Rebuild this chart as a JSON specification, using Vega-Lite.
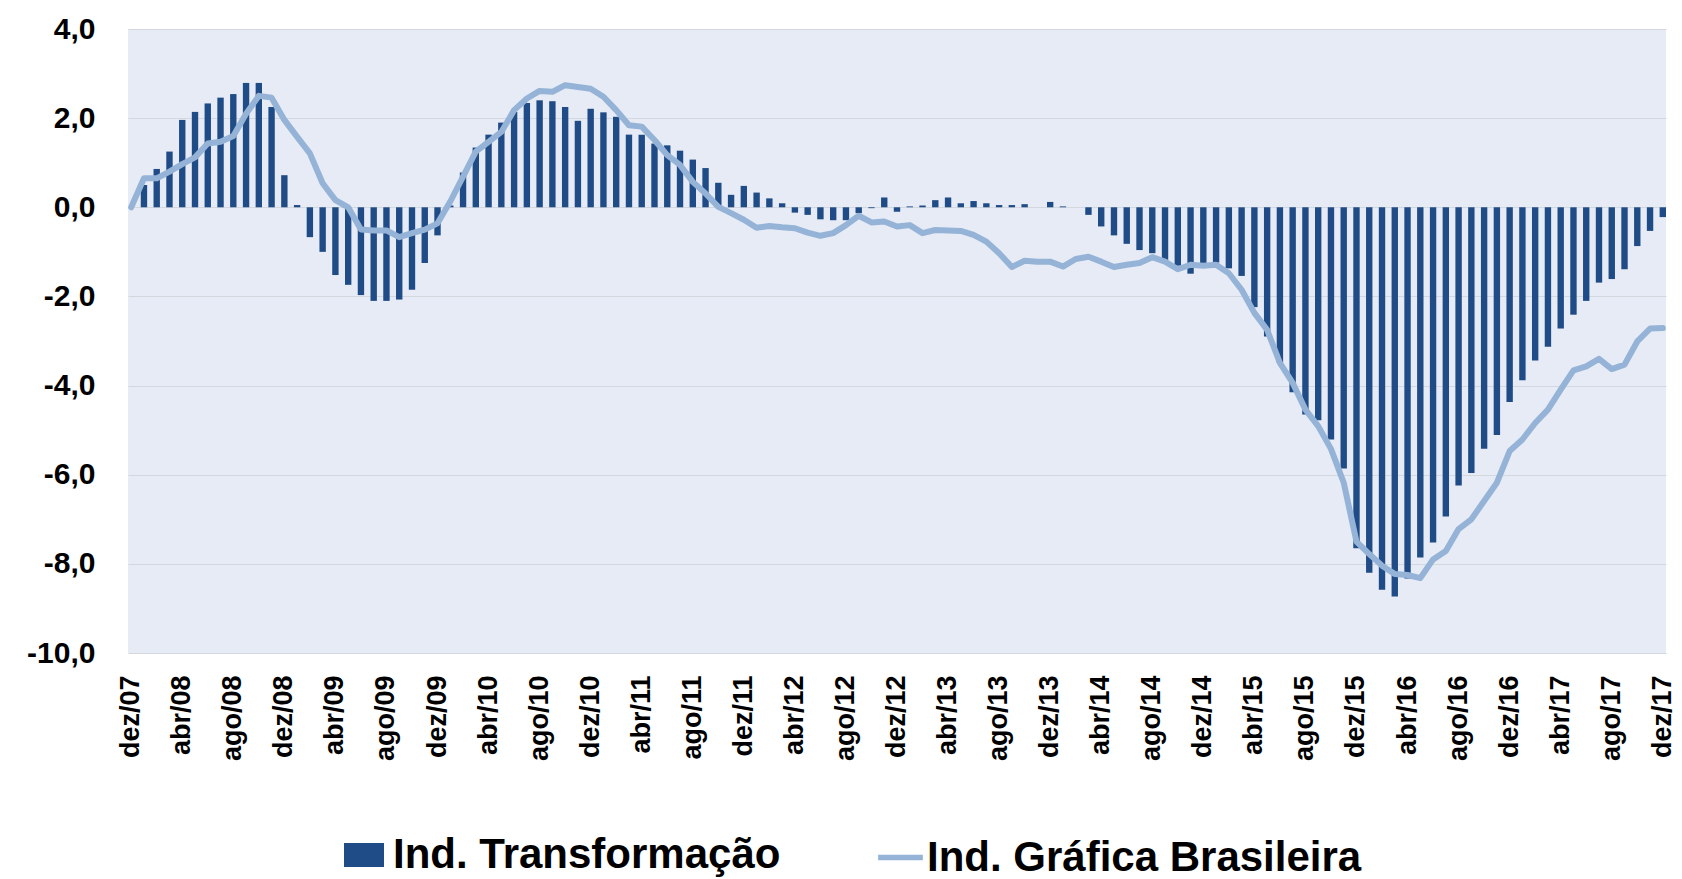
{
  "$schema": "https://vega.github.io/schema/vega-lite/v6.json",
  "autosize": {"type": "none"},
  "width": 1538,
  "height": 624,
  "padding": {"left": 128, "top": 29, "right": 16, "bottom": 226},
  "background": "white",
  "config": {
    "font": "Liberation Sans",
    "view": {"fill": "#E6EBF5", "stroke": null}
  },
  "data": {"values": [
    {"mes":"dez/07","t":0,"g":0.0},
    {"mes":"jan/08","t":0.50,"g":0.65},
    {"mes":"fev/08","t":0.86,"g":0.65},
    {"mes":"mar/08","t":1.25,"g":0.80},
    {"mes":"abr/08","t":1.96,"g":0.97},
    {"mes":"mai/08","t":2.14,"g":1.12},
    {"mes":"jun/08","t":2.33,"g":1.43},
    {"mes":"jul/08","t":2.46,"g":1.47},
    {"mes":"ago/08","t":2.54,"g":1.60},
    {"mes":"set/08","t":2.79,"g":2.10},
    {"mes":"out/08","t":2.79,"g":2.50},
    {"mes":"nov/08","t":2.25,"g":2.46},
    {"mes":"dez/08","t":0.72,"g":1.96},
    {"mes":"jan/09","t":0.05,"g":1.58},
    {"mes":"fev/09","t":-0.67,"g":1.21},
    {"mes":"mar/09","t":-1.00,"g":0.54},
    {"mes":"abr/09","t":-1.52,"g":0.16},
    {"mes":"mai/09","t":-1.74,"g":0.0},
    {"mes":"jun/09","t":-1.97,"g":-0.50},
    {"mes":"jul/09","t":-2.10,"g":-0.52},
    {"mes":"ago/09","t":-2.10,"g":-0.52},
    {"mes":"set/09","t":-2.07,"g":-0.67},
    {"mes":"out/09","t":-1.85,"g":-0.58},
    {"mes":"nov/09","t":-1.25,"g":-0.50},
    {"mes":"dez/09","t":-0.63,"g":-0.36},
    {"mes":"jan/10","t":0.04,"g":0.13},
    {"mes":"fev/10","t":0.78,"g":0.69},
    {"mes":"mar/10","t":1.34,"g":1.25},
    {"mes":"abr/10","t":1.63,"g":1.47},
    {"mes":"mai/10","t":1.90,"g":1.69},
    {"mes":"jun/10","t":2.14,"g":2.18},
    {"mes":"jul/10","t":2.34,"g":2.44},
    {"mes":"ago/10","t":2.40,"g":2.61},
    {"mes":"set/10","t":2.38,"g":2.59},
    {"mes":"out/10","t":2.25,"g":2.74},
    {"mes":"nov/10","t":1.94,"g":2.70},
    {"mes":"dez/10","t":2.21,"g":2.66},
    {"mes":"jan/11","t":2.13,"g":2.48},
    {"mes":"fev/11","t":2.03,"g":2.18},
    {"mes":"mar/11","t":1.63,"g":1.84},
    {"mes":"abr/11","t":1.63,"g":1.81},
    {"mes":"mai/11","t":1.43,"g":1.51},
    {"mes":"jun/11","t":1.39,"g":1.17},
    {"mes":"jul/11","t":1.27,"g":0.95},
    {"mes":"ago/11","t":1.07,"g":0.57},
    {"mes":"set/11","t":0.88,"g":0.31},
    {"mes":"out/11","t":0.55,"g":0.01},
    {"mes":"nov/11","t":0.28,"g":-0.13},
    {"mes":"dez/11","t":0.48,"g":-0.28},
    {"mes":"jan/12","t":0.33,"g":-0.46},
    {"mes":"fev/12","t":0.20,"g":-0.42},
    {"mes":"mar/12","t":0.09,"g":-0.45},
    {"mes":"abr/12","t":-0.12,"g":-0.47},
    {"mes":"mai/12","t":-0.17,"g":-0.57},
    {"mes":"jun/12","t":-0.27,"g":-0.64},
    {"mes":"jul/12","t":-0.29,"g":-0.58},
    {"mes":"ago/12","t":-0.29,"g":-0.40},
    {"mes":"set/12","t":-0.13,"g":-0.19},
    {"mes":"out/12","t":-0.02,"g":-0.34},
    {"mes":"nov/12","t":0.22,"g":-0.32},
    {"mes":"dez/12","t":-0.10,"g":-0.43},
    {"mes":"jan/13","t":0.02,"g":-0.40},
    {"mes":"fev/13","t":0.04,"g":-0.58},
    {"mes":"mar/13","t":0.16,"g":-0.51},
    {"mes":"abr/13","t":0.22,"g":-0.52},
    {"mes":"mai/13","t":0.09,"g":-0.53},
    {"mes":"jun/13","t":0.14,"g":-0.62},
    {"mes":"jul/13","t":0.09,"g":-0.77},
    {"mes":"ago/13","t":0.05,"g":-1.03},
    {"mes":"set/13","t":0.05,"g":-1.34},
    {"mes":"out/13","t":0.07,"g":-1.20},
    {"mes":"nov/13","t":0,"g":-1.22},
    {"mes":"dez/13","t":0.12,"g":-1.22},
    {"mes":"jan/14","t":0.02,"g":-1.33},
    {"mes":"fev/14","t":0,"g":-1.16},
    {"mes":"mar/14","t":-0.17,"g":-1.11},
    {"mes":"abr/14","t":-0.43,"g":-1.22},
    {"mes":"mai/14","t":-0.63,"g":-1.34},
    {"mes":"jun/14","t":-0.82,"g":-1.29},
    {"mes":"jul/14","t":-0.96,"g":-1.25},
    {"mes":"ago/14","t":-1.03,"g":-1.12},
    {"mes":"set/14","t":-1.18,"g":-1.22},
    {"mes":"out/14","t":-1.31,"g":-1.39},
    {"mes":"nov/14","t":-1.49,"g":-1.29},
    {"mes":"dez/14","t":-1.25,"g":-1.31},
    {"mes":"jan/15","t":-1.24,"g":-1.29},
    {"mes":"fev/15","t":-1.37,"g":-1.48},
    {"mes":"mar/15","t":-1.54,"g":-1.85},
    {"mes":"abr/15","t":-2.24,"g":-2.37},
    {"mes":"mai/15","t":-2.90,"g":-2.75},
    {"mes":"jun/15","t":-3.49,"g":-3.49},
    {"mes":"jul/15","t":-4.15,"g":-3.94},
    {"mes":"ago/15","t":-4.65,"g":-4.54},
    {"mes":"set/15","t":-4.78,"g":-4.91},
    {"mes":"out/15","t":-5.21,"g":-5.42},
    {"mes":"nov/15","t":-5.86,"g":-6.18},
    {"mes":"dez/15","t":-7.65,"g":-7.50},
    {"mes":"jan/16","t":-8.20,"g":-7.78},
    {"mes":"fev/16","t":-8.58,"g":-8.04},
    {"mes":"mar/16","t":-8.73,"g":-8.23},
    {"mes":"abr/16","t":-8.33,"g":-8.25},
    {"mes":"mai/16","t":-7.86,"g":-8.32},
    {"mes":"jun/16","t":-7.52,"g":-7.90},
    {"mes":"jul/16","t":-6.94,"g":-7.71},
    {"mes":"ago/16","t":-6.24,"g":-7.22},
    {"mes":"set/16","t":-5.96,"g":-7.00},
    {"mes":"out/16","t":-5.42,"g":-6.59},
    {"mes":"nov/16","t":-5.11,"g":-6.18},
    {"mes":"dez/16","t":-4.37,"g":-5.47},
    {"mes":"jan/17","t":-3.88,"g":-5.21},
    {"mes":"fev/17","t":-3.44,"g":-4.84},
    {"mes":"mar/17","t":-3.13,"g":-4.54},
    {"mes":"abr/17","t":-2.72,"g":-4.09},
    {"mes":"mai/17","t":-2.41,"g":-3.66},
    {"mes":"jun/17","t":-2.10,"g":-3.57},
    {"mes":"jul/17","t":-1.69,"g":-3.40},
    {"mes":"ago/17","t":-1.61,"g":-3.63},
    {"mes":"set/17","t":-1.39,"g":-3.53},
    {"mes":"out/17","t":-0.87,"g":-3.01},
    {"mes":"nov/17","t":-0.53,"g":-2.72},
    {"mes":"dez/17","t":-0.22,"g":-2.71}
  ]},
  "encoding": {
    "x": {
      "field": "mes", "type": "nominal", "sort": null,
      "scale": {"paddingInner": 0.5, "paddingOuter": 0},
      "axis": {
        "title": null, "labelAngle": -90, "labelFontSize": 27, "labelFontWeight": "bold",
        "labelColor": "#000000", "labelPadding": 22, "ticks": false, "domain": false, "grid": false,
        "labelOverlap": false,
        "values": ["dez/07","abr/08","ago/08","dez/08","abr/09","ago/09","dez/09","abr/10","ago/10","dez/10","abr/11","ago/11","dez/11","abr/12","ago/12","dez/12","abr/13","ago/13","dez/13","abr/14","ago/14","dez/14","abr/15","ago/15","dez/15","abr/16","ago/16","dez/16","abr/17","ago/17","dez/17"]
      }
    }
  },
  "layer": [
    {
      "mark": {"type": "bar"},
      "encoding": {
        "y": {
          "field": "t", "type": "quantitative",
          "scale": {"domain": [-10, 4], "nice": false},
          "axis": {
            "title": null, "values": [-10,-8,-6,-4,-2,0,2,4],
            "labelExpr": "replace(replace(format(datum.value, '.1f'), '.', ','), '\u2212', '-')",
            "labelFontSize": 30, "labelFontWeight": "bold", "labelColor": "#000000",
            "labelPadding": 33, "ticks": false, "domain": false,
            "grid": true, "gridColor": "#D3D7DE", "gridWidth": 1.2
          }
        },
        "color": {
          "datum": "Ind. Transformação",
          "scale": {"range": ["#1F4B87"]},
          "legend": {
            "title": null, "orient": "none", "legendX": 215, "legendY": 805,
            "symbolType": "M-1,-0.6H1V0.6H-1Z", "symbolSize": 1600, "symbolStrokeWidth": 0,
            "labelFontSize": 42, "labelFontWeight": "bold", "labelColor": "#000000",
            "labelOffset": 8, "labelLimit": 800, "padding": 0
          }
        }
      }
    },
    {
      "mark": {"type": "line", "strokeWidth": 6, "strokeJoin": "round", "strokeCap": "round"},
      "encoding": {
        "y": {"field": "g", "type": "quantitative"},
        "stroke": {
          "datum": "Ind. Gráfica Brasileira",
          "scale": {"range": ["#95B3D7"]},
          "legend": {
            "title": null, "orient": "none", "legendX": 747, "legendY": 803,
            "symbolType": "stroke", "symbolSize": 2000, "symbolStrokeWidth": 5.5,
            "labelFontSize": 42, "labelFontWeight": "bold", "labelColor": "#000000",
            "labelOffset": 1, "labelLimit": 800, "padding": 0
          }
        }
      }
    }
  ]
}
